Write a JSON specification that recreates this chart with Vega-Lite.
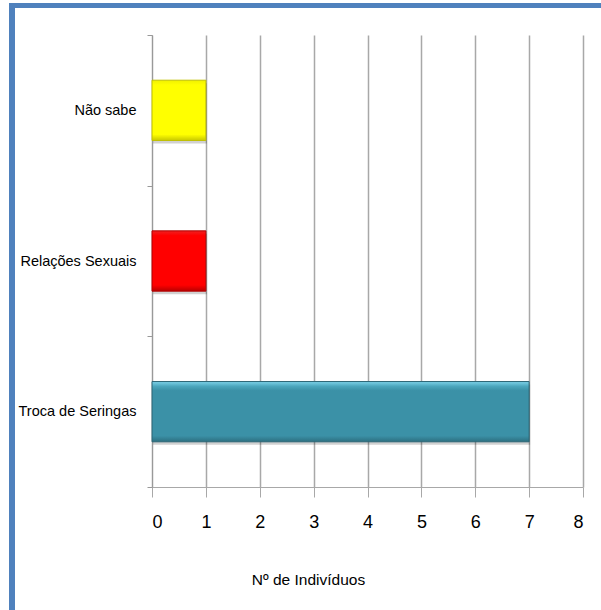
{
  "$schema": "https://vega.github.io/schema/vega-lite/v6.json",
  "padding": {"left": 9, "top": 3, "right": 0, "bottom": 0},
  "background": "white",
  "spacing": 0,
  "bounds": "flush",
  "config": {"view": {"stroke": null}},
  "vconcat": [
    {
      "width": 592, "height": 5,
      "data": {"values": []},
      "mark": "rect", "encoding": {},
      "view": {"fill": "#4F81BD", "stroke": null}
    },
    {
      "spacing": 137,
      "bounds": "flush",
      "hconcat": [
        {
          "width": 6, "height": 602,
          "data": {"values": []},
          "mark": "rect", "encoding": {},
          "view": {"fill": "#4F81BD", "stroke": null}
        },
        {
          "spacing": 26,
          "bounds": "flush",
          "vconcat": [
            {
              "width": 431, "height": 1,
              "data": {"values": []},
              "mark": "rect", "encoding": {}
            },
            {
              "width": 431, "height": 452,
              "data": {"values": [
                {"causa": "Não sabe", "n": 1},
                {"causa": "Relações Sexuais", "n": 1},
                {"causa": "Troca de Seringas", "n": 7}
              ]},
              "encoding": {
                "y": {
                  "field": "causa", "type": "nominal", "sort": null,
                  "scale": {"paddingInner": 0, "paddingOuter": 0},
                  "axis": {
                    "title": null, "grid": false,
                    "domainColor": "#999999", "tickColor": "#999999",
                    "tickSize": 5, "tickBand": "extent",
                    "labelPadding": 11, "labelFontSize": 14.5,
                    "labelFont": "Liberation Sans",
                    "labelColor": "#000000"
                  }
                },
                "x": {
                  "field": "n", "type": "quantitative",
                  "scale": {"domain": [0, 8], "nice": false},
                  "axis": {
                    "title": "Nº de Indivíduos",
                    "values": [0, 1, 2, 3, 4, 5, 6, 7, 8],
                    "format": "d",
                    "grid": true, "gridColor": "#A8A8A8", "gridWidth": 1.5,
                    "domainColor": "#A8A8A8", "tickColor": "#A8A8A8",
                    "tickSize": 10, "labelPadding": 16,
                    "labelFontSize": 18,
                    "labelFont": "Liberation Sans",
                    "labelColor": "#000000",
                    "titleFont": "Liberation Sans",
                    "titleFontSize": 15.5, "titleFontWeight": "normal",
                    "titleColor": "#000000",
                    "titlePadding": 41, "titleX": 156, "titleAlign": "center"
                  }
                }
              },
              "layer": [
                {
                  "mark": {"type": "bar", "height": {"band": 0.4}, "fill": "#000000", "opacity": 0.18, "yOffset": 3, "xOffset": 1}
                },
                {
                  "mark": {"type": "bar", "height": {"band": 0.4}, "strokeWidth": 1},
                  "encoding": {
                    "fill": {
                      "condition": [
                        {"test": "datum.causa === 'Não sabe'", "value": {
                          "gradient": "linear", "x1": 0, "y1": 0, "x2": 0, "y2": 1,
                          "stops": [
                            {"offset": 0, "color": "#F0F000"},
                            {"offset": 0.08, "color": "#FFFF00"},
                            {"offset": 0.9, "color": "#FFFF00"},
                            {"offset": 1, "color": "#C8C800"}
                          ]}},
                        {"test": "datum.causa === 'Relações Sexuais'", "value": {
                          "gradient": "linear", "x1": 0, "y1": 0, "x2": 0, "y2": 1,
                          "stops": [
                            {"offset": 0, "color": "#F02020"},
                            {"offset": 0.08, "color": "#FF0000"},
                            {"offset": 0.9, "color": "#FF0000"},
                            {"offset": 1, "color": "#B80000"}
                          ]}}
                      ],
                      "value": {
                        "gradient": "linear", "x1": 0, "y1": 0, "x2": 0, "y2": 1,
                        "stops": [
                          {"offset": 0, "color": "#7ED3EA"},
                          {"offset": 0.08, "color": "#4BA6BD"},
                          {"offset": 0.15, "color": "#3B91A7"},
                          {"offset": 0.9, "color": "#3B91A7"},
                          {"offset": 1, "color": "#2C6F80"}
                        ]}
                    },
                    "stroke": {
                      "condition": [
                        {"test": "datum.causa === 'Não sabe'", "value": "#C0C000"},
                        {"test": "datum.causa === 'Relações Sexuais'", "value": "#B00000"}
                      ],
                      "value": "#2C6575"
                    }
                  }
                }
              ]
            }
          ]
        }
      ]
    }
  ]
}
